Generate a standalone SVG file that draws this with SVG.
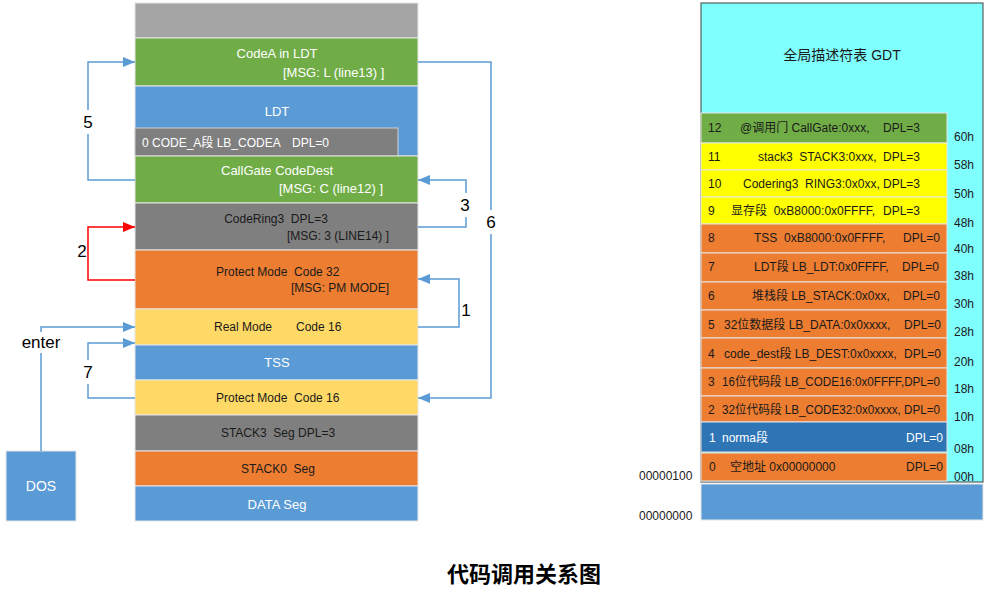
<svg xmlns="http://www.w3.org/2000/svg" width="991" height="598" viewBox="0 0 991 598" xml:space="preserve">
<style>
text{font-family:"Liberation Sans","Noto Sans CJK SC",sans-serif;font-size:12px;fill:#1a1a1a;white-space:pre}
.w{fill:#ffffff}
.t13{font-size:13px}
.c{text-anchor:middle}
.num{font-size:17px;fill:#000;text-anchor:middle}
.seg{stroke:#e6e6e6;stroke-width:1}
.ln{fill:none;stroke:#5b9bd5;stroke-width:1.5}
.red{fill:none;stroke:#ff0000;stroke-width:1.5}
.gr{fill:#a5a5a5}.gn{fill:#70ad47}.bl{fill:#5b9bd5}.gy{fill:#7f7f7f}.or{fill:#ed7d31}.ye{fill:#ffd966}.yy{fill:#ffff00}.db{fill:#2e75b6}
</style>
<defs>
<marker id="ab" markerUnits="userSpaceOnUse" markerWidth="12" markerHeight="10" refX="12" refY="5" orient="auto"><path d="M0,0 L12,5 L0,10 z" fill="#5b9bd5"/></marker>
<marker id="ar" markerUnits="userSpaceOnUse" markerWidth="12" markerHeight="10" refX="12" refY="5" orient="auto"><path d="M0,0 L12,5 L0,10 z" fill="#ff0000"/></marker>
</defs>
<rect width="991" height="598" fill="#ffffff"/>
<g id="top-gray"><rect class="gr seg" x="135" y="3" width="283" height="35"/></g>
<g id="codeA"><rect class="gn seg" x="135" y="38" width="283" height="48"/><text class="w t13 c" x="277" y="58">CodeA in LDT</text><text class="w t13" x="283" y="77">[MSG: L (line13) ]</text></g>
<g id="ldt"><rect class="bl seg" x="135" y="86" width="283" height="70"/><text class="w t13 c" x="277" y="116">LDT</text><rect class="gy" x="135" y="128" width="263" height="28" stroke="#d0d0d0" stroke-width="1"/><text class="w" x="142" y="147">0 CODE_A段 LB_CODEA</text><text class="w" x="292" y="147">DPL=0</text></g>
<g id="callgate"><rect class="gn seg" x="135" y="156" width="283" height="47"/><text class="w t13 c" x="277" y="175">CallGate CodeDest</text><text class="w t13" x="279" y="193">[MSG: C (line12) ]</text></g>
<g id="codering3"><rect class="gy seg" x="135" y="203" width="283" height="47"/><text class="c" x="276" y="223">CodeRing3  DPL=3</text><text x="287" y="240">[MSG: 3 (LINE14) ]</text></g>
<g id="pm32"><rect class="or seg" x="135" y="250" width="283" height="59"/><text x="216" y="276">Protect Mode  Code 32</text><text x="291" y="292">[MSG: PM MODE]</text></g>
<g id="realmode"><rect class="ye seg" x="135" y="309" width="283" height="36"/><text x="214" y="331">Real Mode</text><text x="296" y="331">Code 16</text></g>
<g id="tss"><rect class="bl seg" x="135" y="345" width="283" height="35"/><text class="w t13 c" x="277" y="367">TSS</text></g>
<g id="pm16"><rect class="ye seg" x="135" y="380" width="283" height="35"/><text x="216" y="402">Protect Mode  Code 16</text></g>
<g id="stack3"><rect class="gy seg" x="135" y="415" width="283" height="36"/><text class="c" x="278" y="437">STACK3  Seg DPL=3</text></g>
<g id="stack0"><rect class="or seg" x="135" y="451" width="283" height="35"/><text class="c" x="278" y="473">STACK0  Seg</text></g>
<g id="dataseg"><rect class="bl seg" x="135" y="486" width="283" height="35"/><text class="w t13 c" x="277" y="509">DATA Seg</text></g>
<g id="dos"><rect class="bl seg" x="6" y="451" width="70" height="70"/><text class="w c" x="41" y="491" style="font-size:14px">DOS</text></g>
<g id="connectors">
<path class="ln" d="M135,180 H88 V62 H135" marker-end="url(#ab)"/>
<path class="red" d="M135,280 H88 V227 H135" marker-end="url(#ar)"/>
<path class="ln" d="M41,451 V327 H135" marker-end="url(#ab)"/>
<path class="ln" d="M135,398 H88 V343 H135" marker-end="url(#ab)"/>
<path class="ln" d="M418,62 H491 V398 H418" marker-end="url(#ab)"/>
<path class="ln" d="M418,227 H466 V180 H418" marker-end="url(#ab)"/>
<path class="ln" d="M418,327 H459 V279 H418" marker-end="url(#ab)"/>
<rect x="80" y="110" width="16" height="24" fill="#fff"/><text class="num" x="88" y="128">5</text>
<text class="num" x="82" y="257">2</text>
<rect x="18" y="332" width="46" height="21" fill="#fff"/><text class="num" x="41" y="348">enter</text>
<rect x="80" y="360" width="16" height="24" fill="#fff"/><text class="num" x="88" y="378">7</text>
<rect x="483" y="210" width="16" height="24" fill="#fff"/><text class="num" x="491" y="228">6</text>
<rect x="457" y="193" width="16" height="24" fill="#fff"/><text class="num" x="465" y="211">3</text>
<text class="num" x="466" y="316">1</text>
</g>
<g id="gdt"><rect x="701" y="3" width="282" height="479" fill="#80ffff" stroke="#404040" stroke-width="1"/><text class="c" x="842" y="60" style="font-size:14px">全局描述符表 GDT</text></g>
<g id="gdt-rows">
<g id="d12"><rect class="gn seg" x="701" y="113" width="246" height="30"/><text x="708" y="132">12</text><text x="740" y="132">@调用门 CallGate:0xxx,</text><text x="883" y="132">DPL=3</text></g>
<g id="d11"><rect class="yy seg" x="701" y="143" width="246" height="27"/><text x="708" y="161">11</text><text x="758" y="161">stack3  STACK3:0xxx,</text><text x="883" y="161">DPL=3</text></g>
<g id="d10"><rect class="yy seg" x="701" y="170" width="246" height="27"/><text x="708" y="188">10</text><text x="743" y="188">Codering3  RING3:0x0xx,</text><text x="883" y="188">DPL=3</text></g>
<g id="d9"><rect class="yy seg" x="701" y="197" width="246" height="27"/><text x="708" y="215">9</text><text x="731" y="215">显存段  0xB8000:0x0FFFF,</text><text x="883" y="215">DPL=3</text></g>
<g id="d8"><rect class="or seg" x="701" y="224" width="246" height="29"/><text x="708" y="242">8</text><text x="754" y="242">TSS  0xB8000:0x0FFFF,</text><text x="903" y="242">DPL=0</text></g>
<g id="d7"><rect class="or seg" x="701" y="253" width="246" height="29"/><text x="708" y="271">7</text><text x="754" y="271">LDT段 LB_LDT:0x0FFFF,</text><text x="902" y="271">DPL=0</text></g>
<g id="d6"><rect class="or seg" x="701" y="282" width="246" height="28"/><text x="708" y="300">6</text><text x="752" y="300">堆栈段 LB_STACK:0x0xx,</text><text x="903" y="300">DPL=0</text></g>
<g id="d5"><rect class="or seg" x="701" y="310" width="246" height="28"/><text x="708" y="329">5</text><text x="724" y="329">32位数据段 LB_DATA:0x0xxxx,</text><text x="904" y="329">DPL=0</text></g>
<g id="d4"><rect class="or seg" x="701" y="338" width="246" height="30"/><text x="708" y="358">4</text><text x="724" y="358">code_dest段 LB_DEST:0x0xxxx,</text><text x="904" y="358">DPL=0</text></g>
<g id="d3"><rect class="or seg" x="701" y="368" width="246" height="28"/><text x="708" y="386">3</text><text x="722" y="386" textLength="218" lengthAdjust="spacingAndGlyphs">16位代码段 LB_CODE16:0x0FFFF,DPL=0</text></g>
<g id="d2"><rect class="or seg" x="701" y="396" width="246" height="26"/><text x="708" y="414">2</text><text x="722" y="414" textLength="218" lengthAdjust="spacingAndGlyphs">32位代码段 LB_CODE32:0x0xxxx, DPL=0</text></g>
<g id="d1"><rect class="db seg" x="701" y="422" width="246" height="30"/><text class="w" x="709" y="442">1</text><text class="w" x="722" y="442">norma段</text><text class="w" x="906" y="442">DPL=0</text></g>
<g id="d0"><rect class="or seg" x="701" y="453" width="246" height="28"/><text x="709" y="471">0</text><text x="730" y="471">空地址 0x00000000</text><text x="906" y="471">DPL=0</text></g>
</g>
<g id="offsets"><text x="954" y="141">60h</text><text x="954" y="169">58h</text><text x="954" y="198">50h</text><text x="954" y="227">48h</text><text x="954" y="253">40h</text><text x="954" y="280">38h</text><text x="954" y="308">30h</text><text x="954" y="336">28h</text><text x="954" y="366">20h</text><text x="954" y="393">18h</text><text x="954" y="421">10h</text><text x="954" y="453">08h</text><text x="954" y="481">00h</text></g>
<g id="base"><rect class="bl" x="701" y="484" width="282" height="36" stroke="#e6e6e6"/></g>
<g id="addr"><text x="639" y="480">00000100</text><text x="639" y="520">00000000</text></g>
<text class="c" x="524" y="582" style="font-size:22px;font-weight:bold;fill:#000">代码调用关系图</text>
</svg>
